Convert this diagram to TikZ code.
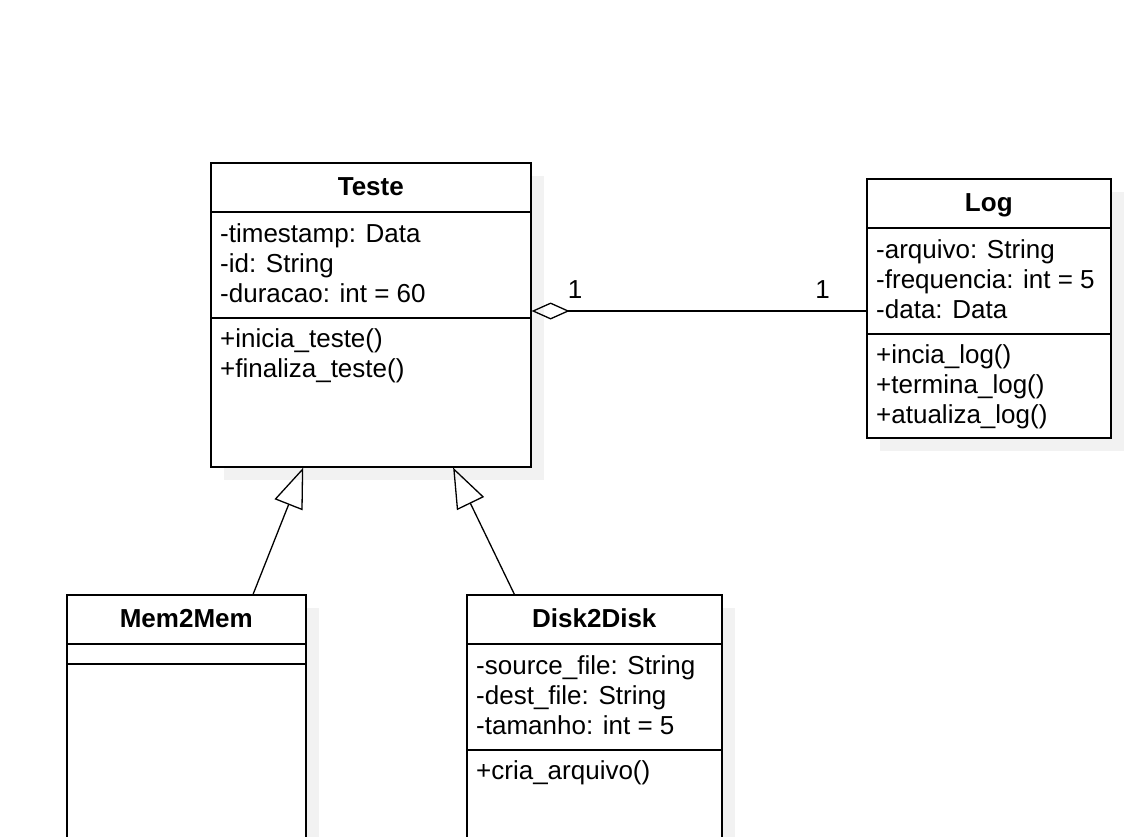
\documentclass[tikz,border=0pt]{standalone}
\usepackage{fontspec}
\setmainfont{Liberation Sans}
\usetikzlibrary{arrows.meta,calc,positioning}

% #1 name, #2 top left corner, #3 width, #4 height, #5 title,
% #6 attribute band height, #7 attributes, #8 methods
\newcommand{\newClass}[8]{%
  \pgfmathsetmacro{\bandEnd}{50+#6}%
  \pgfmathsetmacro{\methBase}{79+#6}%
  \fill[umlshadow] ([shift={(14,14)}]#2) rectangle ++(#3,#4);
  \node[umlbox, minimum width=#3pt, minimum height=#4pt, anchor=north west] (#1) at (#2) {};
  \node[umltitle] (#1-title) at ([yshift=-33pt]#1.north) {#5};
  \draw[umlbox] ([yshift=-50pt]#1.north west) -- ([yshift=-50pt]#1.north east);
  \draw[umlbox] ([yshift=-\bandEnd pt]#1.north west) -- ([yshift=-\bandEnd pt]#1.north east);
  \node[umltext] (#1-attrs) at ([xshift=10pt,yshift=-80pt]#1.north west)
    {\begin{tabular}[t]{@{}l@{}}#7\end{tabular}};
  \node[umltext] (#1-meths) at ([xshift=10pt,yshift=-\methBase pt]#1.north west)
    {\begin{tabular}[t]{@{}l@{}}#8\end{tabular}};
}

\begin{document}
\begin{tikzpicture}[
    x=1pt, y=-1pt,
    % class boxes
    umlbox/.style={draw, line width=1.6pt, fill=white, inner sep=0pt},
    umlshadow/.style={fill=black!5},
    umltitle/.style={font=\fontsize{26}{30}\selectfont\bfseries, anchor=base, inner sep=0pt},
    umltext/.style={font=\fontsize{26}{30}\selectfont, anchor=base west, inner sep=0pt},
    % connectors
    aggr/.style={line width=1.3pt, {Diamond[open, length=38pt, width=17pt, line width=1.3pt]}-},
    gener/.style={line width=1.3pt, -{Triangle[open, length=40pt, width=30pt, line width=1.3pt]}},
    mult/.style={font=\fontsize{26}{30}\selectfont}
    ]
    \clip (0,0) rectangle (1144,836);
    \fill[white] (0,0) rectangle (1144,836);

    \newClass{Teste}{210,162}{320}{304}{Teste}{106}
      {-timestamp: Data\\-id: String\\-duracao: int = 60}
      {+inicia\_teste()\\+finaliza\_teste()}
    \newClass{Log}{866,178}{244}{259}{Log}{106}
      {-arquivo: String\\-frequencia: int = 5\\-data: Data}
      {+incia\_log()\\+termina\_log()\\+atualiza\_log()}
    \newClass{Mem2Mem}{66,594}{239}{300}{Mem2Mem}{20}{}{}
    \newClass{Disk2Disk}{466,594}{255}{300}{Disk2Disk}{106}
      {-source\_file: String\\-dest\_file: String\\-tamanho: int = 5}
      {+cria\_arquivo()}

    % aggregation
    \draw[aggr] (Teste.east |- 0,311) --
      node[mult, pos=0.13, above=9pt] {1}
      node[mult, pos=0.87, above=9pt] {1} (Log.west |- 0,311);

    % generalization
    \draw[gener] ($(Mem2Mem.north west)!0.778!(Mem2Mem.north east)$) --
      ($(Teste.south west)!0.29!(Teste.south east)$);
    \draw[gener] ($(Disk2Disk.north west)!0.188!(Disk2Disk.north east)$) --
      ($(Teste.south west)!0.756!(Teste.south east)$);
\end{tikzpicture}
\end{document}
